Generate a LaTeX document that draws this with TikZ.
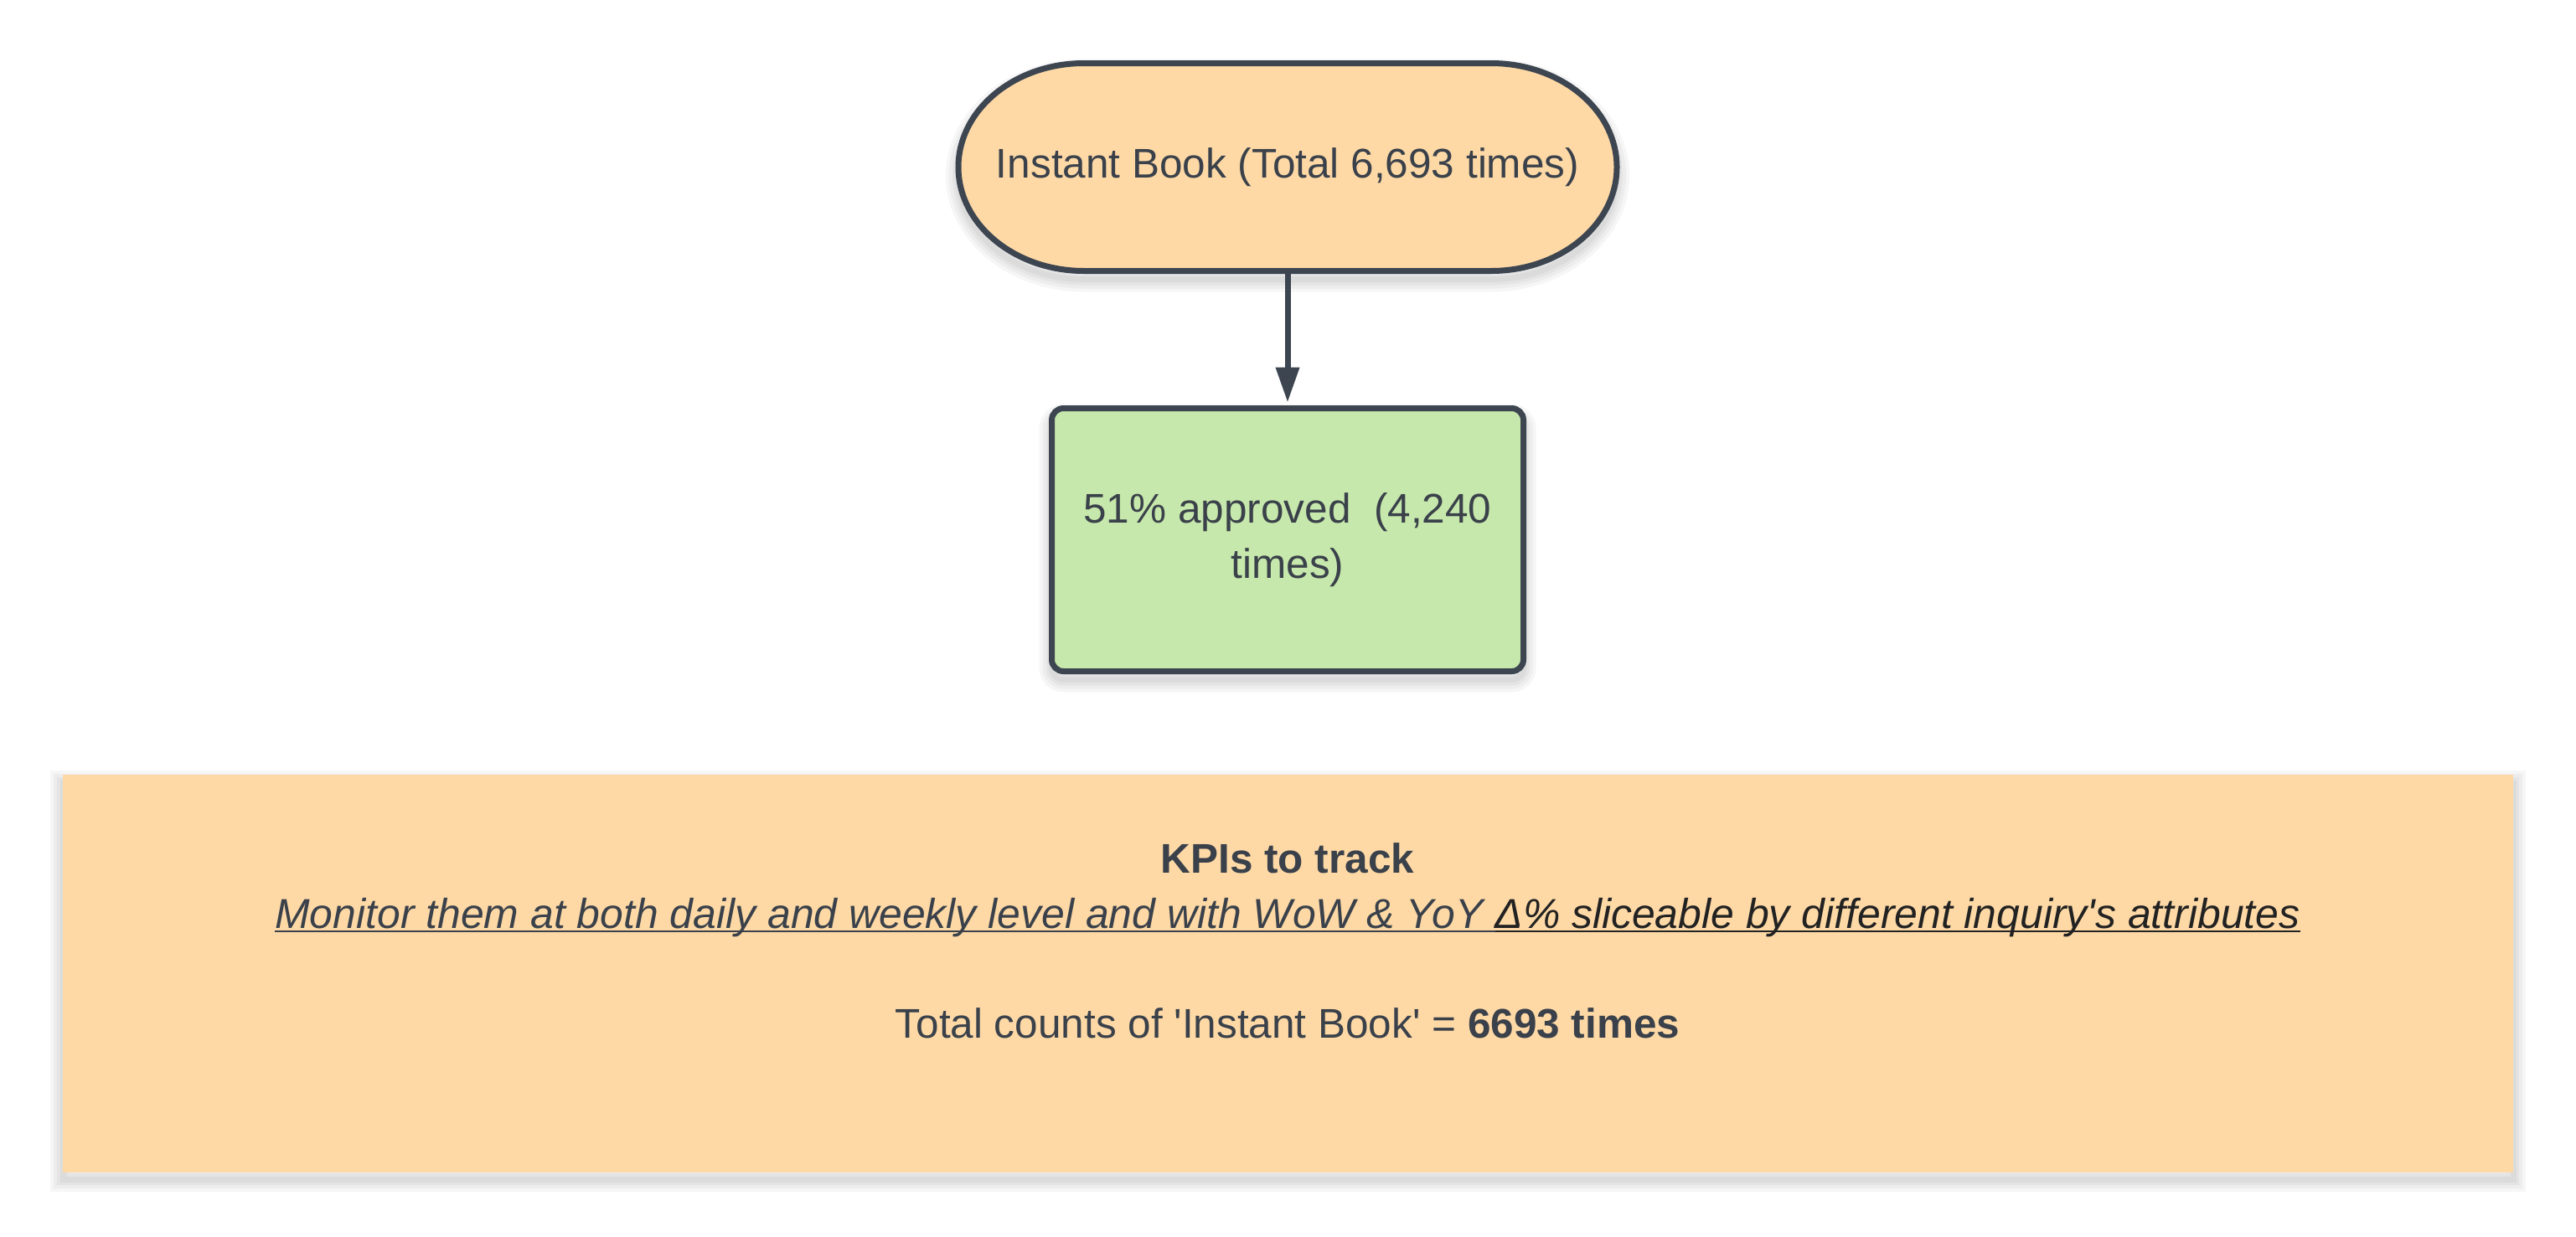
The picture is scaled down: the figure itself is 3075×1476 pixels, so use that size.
\documentclass[tikz,border=0pt]{standalone}
\usepackage{fontspec}
\setmainfont{Liberation Sans}
\usetikzlibrary{arrows.meta}
\definecolor{ink}{RGB}{60,69,80}
\definecolor{txt}{RGB}{58,65,74}
\definecolor{blk}{RGB}{34,34,34}
\definecolor{peach}{RGB}{254,217,166}
\definecolor{mint}{RGB}{199,232,172}
\newsavebox\myulbox
\newcommand\myul[1]{\sbox\myulbox{#1}\rlap{\rule[-5.3pt]{\wd\myulbox}{2.5pt}}\usebox\myulbox}
\newcommand\stadiumat[1]{%
  (1294,75.5+#1) -- (1780,75.5+#1)
  arc[start angle=90, end angle=-90, x radius=150pt, y radius=124pt]
  -- (1294,323.5+#1)
  arc[start angle=270, end angle=90, x radius=150pt, y radius=124pt]
  -- cycle}
\begin{document}
\begin{tikzpicture}[x=1pt,y=-1pt,
  txtfont/.style={font=\fontsize{49.5}{66}\selectfont, text=txt},
  shadowring/.style={draw=black, draw opacity=0.035, line width=#1},
  outline/.style={draw=ink, line width=7pt},
  link/.style={draw=ink, line width=7pt, -{Triangle[length=42pt,width=27pt]}, shorten >=3.5pt}]
\useasboundingbox (0,0) rectangle (3075,1476);
\fill[white] (0,0) rectangle (3075,1476);

% soft shadows
\foreach \w in {30,22,14,7} {
  \path[shadowring=\w pt] \stadiumat{10};
  \path[shadowring=\w pt, rounded corners=14pt] (1255.5,497.5) rectangle (1818.5,811.5);
  \path[shadowring=\w pt] (75,935) rectangle (3000,1408);
}

% top terminal
\path[outline, fill=peach] \stadiumat{0};
\node[txtfont, minimum width=786pt, minimum height=248pt, inner sep=0pt] (ib) at (1537,199.5) {Instant Book (Total 6,693 times)};

% approved box
\node[txtfont, outline, fill=mint, rounded corners=14pt, minimum width=563pt, minimum height=314pt, align=center] (ap) at (1537,644.5) {51\% approved\ \ (4,240\\times)};

\draw[link] (ib.south) -- (ap.north);

% KPI panel
\node[fill=peach, minimum width=2925pt, minimum height=475pt, inner sep=0pt] (kpi) at (1537.5,1162.5) {};
\node[txtfont, anchor=base, inner sep=0pt] (kt) at (1537,1042) {\bfseries KPIs to track};
\node[txtfont, font=\fontsize{49.9}{66}\selectfont, anchor=base, inner sep=0pt] (km) at (1537,1108) {\itshape{\color{txt}\myul{Monitor them at both daily and weekly level and with WoW \& YoY }}{\color{blk}\myul{Δ\% sliceable by different inquiry\textquotesingle s attributes}}};
\node[txtfont, anchor=base, inner sep=0pt] (kc) at (1537,1239) {Total counts of \textquotesingle Instant Book\textquotesingle{} = \textbf{6693 times}};
\end{tikzpicture}
\end{document}
